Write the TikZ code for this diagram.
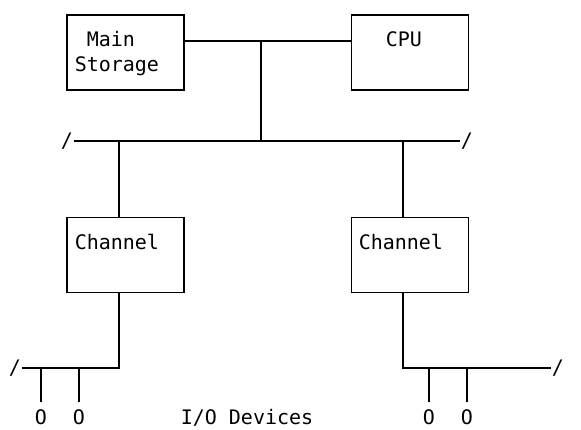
\documentclass[tikz,border=0pt]{standalone}
\usepackage{fontspec}
\setmonofont{DejaVu Sans Mono}
\usetikzlibrary{positioning}

\begin{document}
\begin{tikzpicture}[x=1pt,y=1pt,line width=1.5pt,
    unit/.style={draw,minimum width=117pt,minimum height=75pt,inner sep=0pt},
    txt/.style={font=\ttfamily\fontsize{20}{25}\selectfont,inner sep=0pt}]
      \useasboundingbox (0,0) rectangle (581,429);

      % boxes
      \node[unit] (store) at (125.5,376.5) {};
      \node[unit] (cpu) at (410,376.5) {};
      \node[unit] (chanA) at (125.5,174) {};
      \node[unit] (chanB) at (410,174) {};

      \node[txt,anchor=base west] (mainlbl) at (86,382) {Main};
      \node[txt,anchor=base west] (storelbl) at (74,357) {Storage};
      \node[txt,anchor=base west] (cpulbl) at (385,382) {CPU};
      \node[txt,anchor=base west] (chanAlbl) at (74,179) {Channel};
      \node[txt,anchor=base west] (chanBlbl) at (358,179) {Channel};

      % buses
      \coordinate (hub) at (261,388);
      \node[txt] (busL) at (67,288) {/};
      \node[txt] (busR) at (467,288) {/};
      \node[txt] (ioL) at (15,61) {/};
      \node[txt] (ioR) at (558,61) {/};

      \draw (store.east |- hub) -- (cpu.west |- hub);
      \draw (hub) -- (hub |- busL);
      \draw (busL) -- (busR);
      \draw ([xshift=-6.5pt]chanA.north) -- ([xshift=-6.5pt]chanA.north |- busL);
      \draw ([xshift=-7pt]chanB.north) -- ([xshift=-7pt]chanB.north |- busR);
      \draw ([xshift=-6.5pt]chanA.south) |- (ioL);
      \draw ([xshift=-7pt]chanB.south) |- (ioR);

      % devices
      \node[txt,anchor=base] (devA) at (41,5) {O};
      \node[txt,anchor=base] (devB) at (79,5) {O};
      \node[txt,anchor=base] (devC) at (429,5) {O};
      \node[txt,anchor=base] (devD) at (467,5) {O};
      \node[txt,anchor=base] (iolbl) at (247,5) {I/O Devices};

      \draw[shorten <=6pt] (devA) -- (devA |- ioL);
      \draw[shorten <=6pt] (devB) -- (devB |- ioL);
      \draw[shorten <=6pt] (devC) -- (devC |- ioR);
      \draw[shorten <=6pt] (devD) -- (devD |- ioR);
\end{tikzpicture}
\end{document}
